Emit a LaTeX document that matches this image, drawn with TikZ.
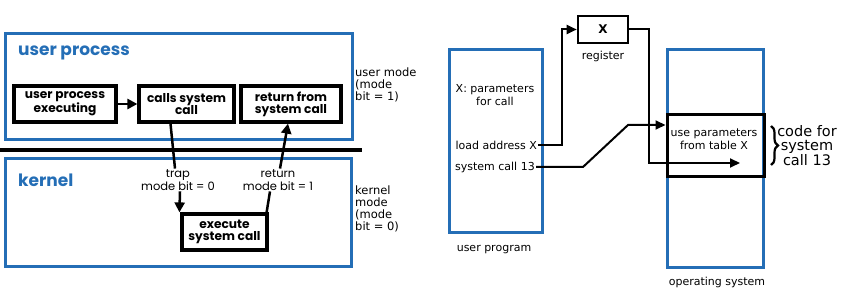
\documentclass[tikz,border=0pt]{standalone}
\usepackage{fontspec}
\newfontfamily\geo{Poppins}
\newfontfamily\dv{DejaVu Sans}
\usetikzlibrary{arrows.meta,decorations.pathreplacing}
\definecolor{frameblue}{RGB}{36,110,182}
\tikzset{
  container/.style={draw=frameblue,line width=3pt,rectangle,inner sep=0pt},
  stepbox/.style={draw=black,line width=3.2pt,rectangle,inner sep=0pt,align=center,
    font=\geo\bfseries\fontsize{12.2}{12.3}\selectfont},
  heading/.style={text=frameblue,font=\geo\bfseries\fontsize{17}{18}\selectfont,inner sep=0pt},
  geolabel/.style={align=center,inner sep=1pt,font=\geo\fontsize{11.5}{12.5}\selectfont},
  modelabel/.style={align=left,inner sep=0pt,font=\dv\fontsize{11.5}{11.8}\selectfont},
  plain/.style={align=center,inner sep=1pt,font=\dv\fontsize{11}{13}\selectfont},
  conn/.style={line width=2.5pt},
  arr/.style={line width=2.5pt,-{Triangle[length=10pt,width=10pt]}},
  rarr/.style={line width=2pt,-{Triangle[length=10pt,width=9pt]}},
}
\begin{document}
\begin{tikzpicture}[x=1pt,y=-1pt]
\useasboundingbox (0,0) rectangle (849,291);

% ---------- user / kernel mode transition ----------
\node[container,minimum width=347pt,minimum height=106pt] (ubox) at (178.5,87) {};
\node[container,minimum width=346pt,minimum height=108pt] (kbox) at (178,213) {};
\node[heading,anchor=west] (utitle) at (18,53) {user process};
\node[heading,anchor=west] (ktitle) at (18,180) {kernel};

\node[stepbox,minimum width=102pt,minimum height=36pt] (upe) at (65,104) {user process\\executing};
\node[stepbox,minimum width=95pt,minimum height=36pt] (calls) at (186.5,104) {calls system\\call};
\node[stepbox,minimum width=100pt,minimum height=36pt] (ret) at (291,104) {return from\\system call};
\node[stepbox,minimum width=85pt,minimum height=36pt] (exec) at (224.5,232) {execute\\system call};

% boundary between user space and kernel space
\coordinate (sepl) at (0,150);
\coordinate (sepr) at (362,150);
\draw[line width=4.5pt] (sepl) -- (sepr);

\node[geolabel] (trap) at (178,180) {trap\\mode bit = 0};
\node[geolabel] (back) at (278,180) {return\\mode bit = 1};

\draw[arr] (upe.east) -- (calls.west);
\draw[conn] ([xshift=-16pt]calls.south) -- ([xshift=-3pt]trap.north);
\draw[arr] ([xshift=2pt]trap.south) -- ([xshift=-1pt]exec.north west);
\draw[conn] ([xshift=-2pt]exec.north east) -- ([xshift=-8pt]back.south);
\draw[arr] ([xshift=2pt]back.north) -- ([xshift=-3pt]ret.south);

\node[modelabel,anchor=north west] (umode) at (355,68) {user mode\\(mode\\bit = 1)};
\node[modelabel,anchor=north west] (kmode) at (355,186) {kernel\\mode\\(mode\\bit = 0)};

% ---------- parameter passing via table ----------
\node[container,minimum width=93pt,minimum height=183pt] (uprog) at (495.5,141.5) {};
\node[container,minimum width=96pt,minimum height=218pt] (os) at (715,159) {};
\node[draw=black,line width=3pt,minimum width=97pt,minimum height=62pt,inner sep=0pt] (table) at (715.5,146) {};
\node[draw=black,line width=2.6pt,minimum width=50pt,minimum height=27pt,inner sep=0pt,
      font=\dv\bfseries\fontsize{12}{13}\selectfont] (reg) at (603,29.5) {X};

\node[plain] (xparam) at (495,95) {X: parameters\\for call};
\node[plain,anchor=east] (load) at (538,145) {load address X};
\node[plain,anchor=east] (sc) at (536,167) {system call 13};
\node[plain] (uplabel) at (494,250) {user program};
\node[plain] (reglabel) at (603,56) {register};
\node[plain] (tabletext) at (714,139) {use parameters\\from table X};
\node[plain] (oslabel) at (717,282) {operating system};
\node[align=center,inner sep=0pt,font=\dv\fontsize{14.5}{13.8}\selectfont] (code) at (807,146) {code for\\system\\call 13};

\coordinate (btop) at (771,126);
\coordinate (bbot) at (771,165);
\draw[line width=2.2pt,decorate,decoration={brace,amplitude=7pt}] (btop) -- (bbot);

\coordinate (tin) at (740,163);
\draw[rarr] (load.east) -- ++(24,0) |- (reg.west);
\draw[rarr] (reg.east) -- ++(20,0) |- (tin);
\draw[rarr] (sc.east) -- ++(47,0) -- (628,125) -- ([yshift=21pt]table.west);
\end{tikzpicture}
\end{document}
